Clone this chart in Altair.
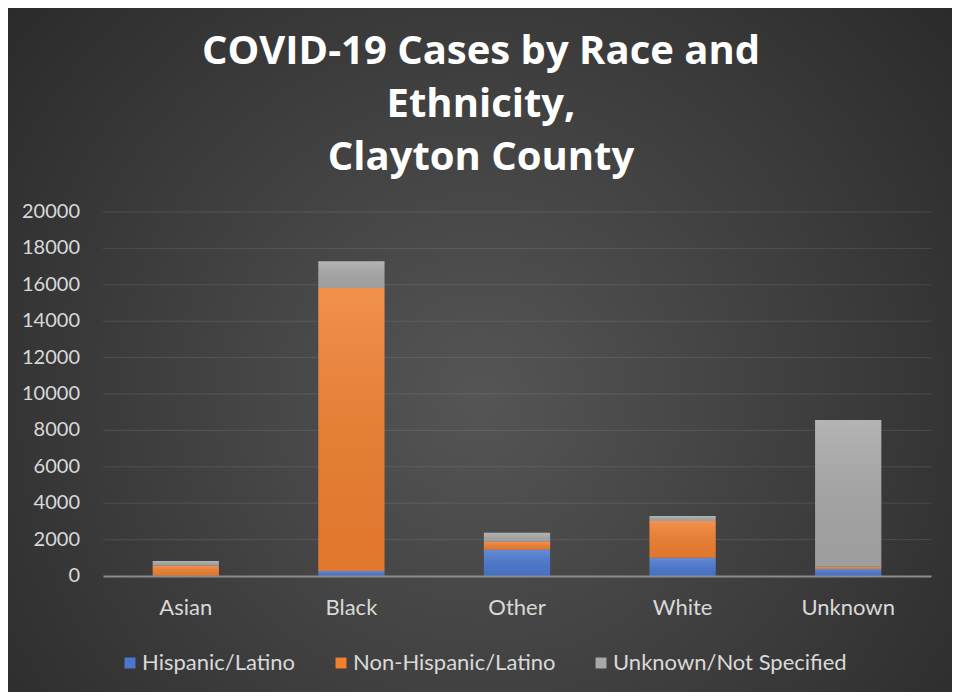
import altair as alt
import pandas as pd

categories = ["Asian", "Black", "Other", "White", "Unknown"]
series = ["Hispanic/Latino", "Non-Hispanic/Latino", "Unknown/Not Specified"]
hispanic = [20, 280, 1445, 1005, 385]
non_hispanic = [550, 15540, 440, 2015, 125]
unknown = [260, 1480, 495, 280, 8060]
y_ticks = [0, 2000, 4000, 6000, 8000, 10000, 12000, 14000, 16000, 18000, 20000]
colors = ["#4a78cf", "#f07f30", "#a8a8a8"]

rows = []
for i, c in enumerate(categories):
    for j, (s, vals) in enumerate(zip(series, [hispanic, non_hispanic, unknown])):
        rows.append({"category": c, "series": s, "order": j, "value": vals[i]})
df = pd.DataFrame(rows)
tick_df = pd.DataFrame({"tick": y_ticks, "label": [str(t) for t in y_ticks]})
grid_df = tick_df[tick_df["tick"] > 0]

FONT = "Lato"
W, H = 828, 364
PL, PT, PR, PB = 95, 204, 21, 116

bg = alt.Chart(alt.Data(values=[{}])).mark_rect(
    fill={
        "gradient": "radial",
        "x1": 0.5, "y1": 0.55, "r1": 0,
        "x2": 0.5, "y2": 0.55, "r2": 0.75,
        "stops": [
            {"offset": 0, "color": "#555555"},
            {"offset": 1, "color": "#242424"},
        ],
    }
).encode(
    x=alt.value(-PL), x2=alt.value(W + PR),
    y=alt.value(-PT), y2=alt.value(H + PB),
)

yscale = alt.Scale(domain=[0, 20000], nice=False)

grid = alt.Chart(grid_df).mark_rule(color="#ffffff", opacity=0.1, strokeWidth=1).encode(
    y=alt.Y("tick:Q", scale=yscale, axis=None)
)

ylabels = alt.Chart(tick_df).mark_text(
    align="right", baseline="middle", dx=-23, font=FONT, fontSize=20, color="#d9d9d9"
).encode(
    y=alt.Y("tick:Q", scale=yscale, axis=None),
    x=alt.value(0),
    text="label:N",
)

xenc = alt.X(
    "category:N", sort=categories,
    scale=alt.Scale(paddingInner=0.6, paddingOuter=0.3),
    axis=alt.Axis(title=None, labelAngle=0, labelColor="#d9d9d9", labelFontSize=22,
                  labelFont=FONT, labelPadding=21, ticks=False,
                  domainColor="#8c8c8c", domainWidth=2, zindex=1),
)

bars = alt.Chart(df).mark_bar().encode(
    x=xenc,
    y=alt.Y("value:Q", stack="zero", scale=yscale, axis=None),
    color=alt.Color("series:N", sort=series,
                    scale=alt.Scale(domain=series, range=colors),
                    legend=alt.Legend(title=None, orient="none", direction="horizontal",
                                      legendX=16, legendY=440,
                                      symbolType="square", symbolSize=120,
                                      symbolStrokeWidth=0, symbolOpacity=1,
                                      labelColor="#d9d9d9", labelFontSize=22, labelFont=FONT,
                                      labelLimit=400, labelOffset=1, columnPadding=34)),
    order=alt.Order("order:Q"),
)

shade = alt.Chart(df).mark_bar(
    fill={
        "gradient": "linear", "x1": 0, "y1": 0, "x2": 0, "y2": 1,
        "stops": [
            {"offset": 0, "color": "rgba(255,255,255,0.14)"},
            {"offset": 1, "color": "rgba(0,0,0,0.06)"},
        ],
    }
).encode(
    x=alt.X("category:N", sort=categories),
    y=alt.Y("value:Q", stack="zero", scale=yscale, axis=None),
    detail="series:N",
    order=alt.Order("order:Q"),
)

chart = alt.layer(bg, grid, ylabels, bars, shade).properties(
    width=W, height=H,
    padding={"left": PL, "top": PT, "right": PR, "bottom": PB},
    autosize=alt.AutoSizeParams(type="none"),
    title=alt.Title(
        ["COVID-19 Cases by Race and", "Ethnicity,", "Clayton County"],
        font="Open Sans", fontSize=40, fontWeight="bold", color="#ffffff",
        anchor="middle", lineHeight=53, offset=-170, dx=-36,
    ),
).configure_view(stroke=None).configure(background="#333333")

chart.save("out.html", embed_options={"renderer": "svg", "actions": False})
